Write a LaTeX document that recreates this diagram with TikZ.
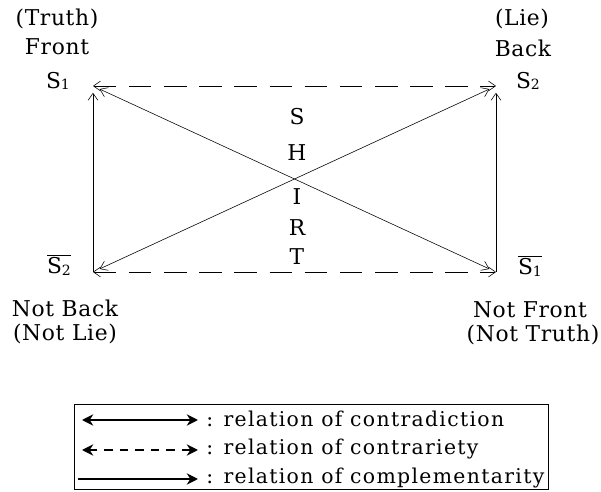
\documentclass[tikz,border=0pt]{standalone}
\usepackage{fontspec}
\setmainfont{DejaVu Serif}
\newfontfamily\lblfont{DejaVu Serif}[LetterSpace=3]
\newfontfamily\keyfont{DejaVu Serif}[LetterSpace=6.5]
\usetikzlibrary{arrows.meta}

\newcommand{\idx}[1]{\raisebox{-0.15ex}{\fontsize{10}{10}\selectfont #1}}
\newcommand{\negs}[1]{$\overline{\mbox{S\idx{#1}}}$}

\begin{document}
\begin{tikzpicture}[x=0.025cm, y=-0.025cm,
    >={Straight Barb[length=5pt,width=7pt]},
    lbl/.style={font=\lblfont\fontsize{15.5}{18}\selectfont, inner sep=0pt},
    keytext/.style={font=\keyfont\fontsize{14.5}{16}\selectfont, inner sep=0pt, anchor=west},
    contra/.style={<->, thin, shorten <=0.18cm, shorten >=0.18cm},
    contrary/.style={<->, thin, dash pattern=on 16pt off 9pt},
    compl/.style={->, thin, shorten >=0.17cm},
    keyline/.style={line width=2pt, >={Stealth[length=8pt,width=8pt]}}
]
\useasboundingbox (0,0) rectangle (601,492);

% Corners of the square
\coordinate (s1) at (93,86);
\coordinate (s2) at (496,86);
\coordinate (ns2) at (93,272);
\coordinate (ns1) at (496,272);

% Labels at the corners
\node[lbl] (truth) at (57,19) {(Truth)};
\node[lbl] (front) at (57,47) {Front};
\node[lbl] (s1lbl) at (58,81) {S\idx{1}};

\node[lbl] (lie) at (522,19) {(Lie)};
\node[lbl] (back) at (523,48) {Back};
\node[lbl] (s2lbl) at (528,81) {S\idx{2}};

\node[lbl] (ns2lbl) at (59,265) {\negs{2}};
\node[lbl] (notback) at (65,308) {Not Back};
\node[lbl] (notlie) at (65,334) {(Not Lie)};

\node[lbl] (ns1lbl) at (530,266) {\negs{1}};
\node[lbl] (notfront) at (530,310) {Not Front};
\node[lbl] (nottruth) at (533,335) {(Not Truth)};

% Relations
\draw[contrary] (s1) -- (s2);
\draw[contrary] (ns2) -- (ns1);
\draw[contra] (s1) -- (ns1);
\draw[contra] (ns2) -- (s2);
\draw[compl] (ns2) -- (s1);
\draw[compl] (ns1) -- (s2);

% Word in the middle
\foreach \ch/\yy in {S/117,H/153,I/197,R/228,T/257}
    \node[lbl] (w\ch) at (297,\yy) {\ch};

% Legend
\draw (74,404) rectangle (548,489);
\coordinate (k1a) at (82,420);
\coordinate (k1b) at (198,420);
\coordinate (k2a) at (82,450);
\coordinate (k2b) at (198,450);
\coordinate (k3a) at (78,479);
\coordinate (k3b) at (198,479);
\draw[keyline, <->] (k1a) -- (k1b);
\draw[keyline, <->, dash pattern=on 6pt off 5pt] (k2a) -- (k2b);
\draw[keyline, ->] (k3a) -- (k3b);
\node[keytext] (key1) at (206,419) {: relation of contradiction};
\node[keytext] (key2) at (206,449) {: relation of contrariety};
\node[keytext] (key3) at (206,478) {: relation of complementarity};

\end{tikzpicture}
\end{document}
